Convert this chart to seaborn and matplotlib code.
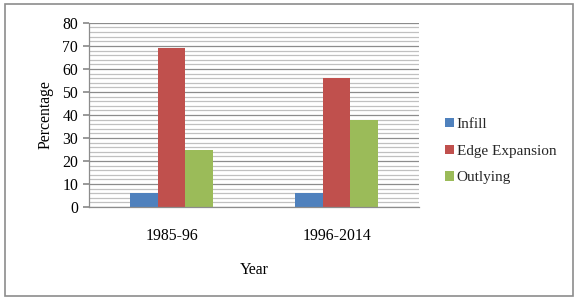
import pandas as pd
import matplotlib.pyplot as plt
import seaborn as sns
from matplotlib.patches import Rectangle
from matplotlib.ticker import MultipleLocator

# data
years = ["1985-96", "1996-2014"]
types = ["Infill", "Edge Expansion", "Outlying"]
infill = [6, 6]
edge = [69, 56]
outlying = [25, 38]
colors = ["#4F81BD", "#C0504D", "#9BBB59"]

df = pd.DataFrame({
    "Year": years * 3,
    "Type": [types[0]] * 2 + [types[1]] * 2 + [types[2]] * 2,
    "Percentage": infill + edge + outlying,
})

sns.set_theme(style="white")
plt.rcParams["font.family"] = ["Liberation Serif", "DejaVu Serif"]

fig = plt.figure(figsize=(5.79, 3.01), dpi=100)
ax = fig.add_axes([0.154, 0.312, 0.570, 0.612])

sns.barplot(data=df, x="Year", y="Percentage", hue="Type", hue_order=types,
            palette=colors, width=0.5, ax=ax, saturation=1, edgecolor="none")

ax.set_ylim(0, 80)
ax.yaxis.set_major_locator(MultipleLocator(10))
ax.yaxis.set_minor_locator(MultipleLocator(2))
ax.grid(which="major", axis="y", color="#8c8c8c", linewidth=0.9)
ax.grid(which="minor", axis="y", color="#c0c0c0", linewidth=0.9)
ax.set_axisbelow(True)

for s in ["top", "right"]:
    ax.spines[s].set_visible(False)
for s in ["left", "bottom"]:
    ax.spines[s].set_color("#8c8c8c")
    ax.spines[s].set_linewidth(0.9)

ax.tick_params(axis="y", which="major", left=True, length=4, color="#8c8c8c",
               labelsize=11.3, pad=4, labelcolor="black")
ax.tick_params(axis="x", bottom=False, labelsize=11.3, pad=9, labelcolor="black")
ax.set_xlabel("Year", fontsize=11.3, labelpad=13, color="black")
ax.set_ylabel("Percentage", fontsize=11.3, labelpad=6, color="black")

ax.legend(loc="center left", bbox_to_anchor=(0.745, 0.498),
          bbox_transform=fig.transFigure, frameon=False,
          fontsize=11, handlelength=0.55, handleheight=0.55, handletextpad=0.2,
          labelspacing=0.9)

fig.patches.append(Rectangle((0.009, 0.017), 0.981, 0.97, transform=fig.transFigure,
                             fill=False, edgecolor="#8c8c8c", linewidth=1.2))

fig.savefig("out.png", dpi=100)
